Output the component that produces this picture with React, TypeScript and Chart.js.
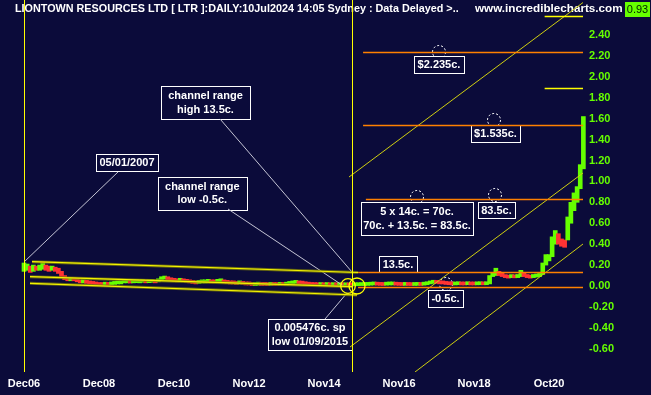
import React, { useEffect, useRef } from 'react';
import { Chart, registerables } from 'chart.js';

Chart.register(...registerables);

// ---------- text ----------
const TITLE = 'LIONTOWN RESOURCES LTD [ LTR ]:DAILY:10Jul2024 14:05 Sydney : Data Delayed >..';
const SITE = 'www.incrediblecharts.com';
const LAST_PRICE = '0.93';

// ---------- axes ----------
// x values are month indexes counted from Dec 2006
const xTickMonths = [0, 24, 48, 72, 96, 120, 144, 168];
const xTickLabels = ['Dec06', 'Dec08', 'Dec10', 'Nov12', 'Nov14', 'Nov16', 'Nov18', 'Oct20'];
const yTicks = [-0.6, -0.4, -0.2, 0, 0.2, 0.4, 0.6, 0.8, 1.0, 1.2, 1.4, 1.6, 1.8, 2.0, 2.2, 2.4];

// ---------- price ranges (one bar per month, Dec 2006 .. Oct 2021) ----------
const lows = [
  0.14, 0.15, 0.13, 0.14, 0.15, 0.15, 0.16, 0.15, 0.14, 0.15, 0.14, 0.12,
  0.09, 0.06, 0.05, 0.05, 0.05, 0.04, 0.03, 0.03, 0.025, 0.02, 0.015, 0.01,
  0.005, 0.005, 0.008, 0.006, 0.01, 0.015, 0.02, 0.02, 0.03, 0.03, 0.028, 0.03,
  0.032, 0.03, 0.035, 0.03, 0.032, 0.035, 0.03, 0.04, 0.06, 0.065, 0.06, 0.05,
  0.045, 0.04, 0.045, 0.04, 0.035, 0.03, 0.025, 0.02, 0.025, 0.03, 0.03, 0.035,
  0.03, 0.03, 0.035, 0.04, 0.03, 0.025, 0.02, 0.02, 0.015, 0.02, 0.015, 0.01,
  0.01, 0.005, 0.005, 0.008, 0.005, 0.006, 0.004, 0.006, 0.005, 0.004, 0.006, 0.005,
  0.008, 0.015, 0.02, 0.025, 0.02, 0.018, 0.012, 0.008, 0.005, 0.004, 0.003, 0.004,
  0.003, 0.004, 0.002, 0.003, 0.002, 0.003, 0.002, 0.002, 0.001, 0.0005, 0.002, 0.003,
  0.004, 0.005, 0.006, 0.008, 0.01, 0.008, 0.006, 0.005, 0.008, 0.01, 0.01, 0.008,
  0.006, 0.005, 0.006, 0.005, 0.004, 0.005, 0.006, 0.005, 0.008, 0.012, 0.02, 0.025,
  0.025, 0.02, 0.02, 0.015, 0.012, 0.01, 0.01, 0.012, 0.01, 0.01, 0.012, 0.01,
  0.01, 0.011, 0.012, 0.011, 0.012, 0.02, 0.09, 0.1, 0.1, 0.09, 0.08, 0.075,
  0.08, 0.078, 0.08, 0.09, 0.09, 0.08, 0.075, 0.08, 0.085, 0.09, 0.11, 0.2,
  0.24, 0.28, 0.4, 0.4, 0.38, 0.37, 0.44, 0.6, 0.72, 0.8, 0.93, 1.12,
];
const highs = [
  0.22, 0.21, 0.19, 0.2, 0.19, 0.2, 0.22, 0.2, 0.19, 0.19, 0.18, 0.17,
  0.14, 0.1, 0.08, 0.08, 0.07, 0.07, 0.05, 0.05, 0.045, 0.04, 0.035, 0.025,
  0.02, 0.018, 0.02, 0.018, 0.022, 0.03, 0.035, 0.04, 0.045, 0.05, 0.045, 0.05,
  0.048, 0.05, 0.05, 0.045, 0.05, 0.052, 0.048, 0.06, 0.085, 0.095, 0.085, 0.07,
  0.065, 0.06, 0.065, 0.06, 0.055, 0.05, 0.045, 0.04, 0.045, 0.05, 0.055, 0.06,
  0.055, 0.05, 0.06, 0.065, 0.05, 0.04, 0.04, 0.035, 0.035, 0.04, 0.03, 0.03,
  0.025, 0.02, 0.02, 0.022, 0.02, 0.018, 0.018, 0.02, 0.018, 0.016, 0.02, 0.018,
  0.022, 0.03, 0.04, 0.05, 0.045, 0.035, 0.028, 0.022, 0.016, 0.015, 0.014, 0.016,
  0.012, 0.013, 0.012, 0.012, 0.01, 0.011, 0.009, 0.01, 0.008, 0.007, 0.01, 0.012,
  0.014, 0.018, 0.02, 0.024, 0.03, 0.022, 0.02, 0.018, 0.024, 0.028, 0.03, 0.022,
  0.02, 0.018, 0.018, 0.016, 0.016, 0.017, 0.018, 0.016, 0.022, 0.03, 0.045, 0.055,
  0.05, 0.045, 0.04, 0.03, 0.025, 0.022, 0.022, 0.024, 0.022, 0.02, 0.022, 0.021,
  0.02, 0.022, 0.023, 0.022, 0.024, 0.1, 0.13, 0.17, 0.14, 0.13, 0.105, 0.1,
  0.105, 0.1, 0.11, 0.15, 0.13, 0.11, 0.1, 0.11, 0.115, 0.12, 0.22, 0.3,
  0.3, 0.47, 0.53, 0.5, 0.45, 0.44, 0.66, 0.8, 0.89, 0.95, 1.16, 1.62,
];

// ---------- drawn annotations (month index, price) ----------
const verticalMarkerMonths = [0, 104.96];
const channelLines = [
  [[2.56, 0.2323], [106.88, 0.1291]],
  [[1.92, 0.0889], [104.96, -0.0067]],
  [[1.92, 0.0258], [106.56, -0.086]],
];
const trendLines = [
  [[104, 1.042], [178.88, 2.71]],
  [[104.32, -0.5832], [178.88, 1.0803]],
  [[125.12, -0.8222], [178.88, 0.4015]],
];
const levelValues = [2.235, 1.535, 0.835, 0.135, -0.005];
const levelStartMonths = [108.5, 108.5, 109.4, 106.9, 106.9];
const levelEndMonth = 178.88;
const shortYellowLevels = [2.58, 1.89];
const shortYellowStart = 166.6;
const leaderLines = [
  [[30.08, 1.09], [0, 0.229]],
  [[62.72, 1.597], [104.96, 0.1338]],
  [[65.28, 0.736], [102.72, -0.0096]],
  [[96.32, -0.3155], [103.36, -0.0669]],
];
const lowCircleMonths = [103.68, 106.56];
const lowCircleRadii = [7.3, 8];
const dashedMarks = [
  [135.04, 0.019],
  [125.76, 0.851],
  [150.72, 0.87],
  [132.8, 2.237],
  [150.4, 1.587],
];
const boxTexts = [
  ['05/01/2007'],
  ['channel range', 'high 13.5c.'],
  ['channel range', 'low -0.5c.'],
  ['0.005476c. sp', 'low 01/09/2015'],
  ['13.5c.'],
  ['-0.5c.'],
  ['5 x 14c. = 70c.', '70c. + 13.5c. = 83.5c.'],
  ['83.5c.'],
  ['$2.235c.'],
  ['$1.535c.'],
];
const boxAnchors = [
  [32.96, 1.181],
  [58.08, 1.754],
  [57.06, 0.889],
  [91.52, -0.4637],
  [119.68, 0.2103],
  [134.88, -0.1195],
  [125.76, 0.6453],
  [151.2, 0.7266],
  [132.8, 2.1176],
  [150.88, 1.458],
];
const boxSizes = [
  [62, 17], [89, 33], [89, 33], [84, 31], [38, 16],
  [35, 17], [112, 33], [37, 16], [50, 17], [49, 17],
];

// ---------- style ----------
const BG = '#0b0b3a';
const GREEN = '#66ff00';
const RED = '#ff3333';
const LIME = '#66ff00';
const FONT = "'Liberation Sans', Arial, sans-serif";
const X_MIN = -7.68;
const X_MAX = 179.84;
const Y_MAX = 2.7342;
const Y_MIN = -0.8222;

const bgPlugin = {
  id: 'bgFill',
  beforeDraw(chart: any) {
    const ctx = chart.ctx;
    ctx.save();
    ctx.fillStyle = BG;
    ctx.fillRect(0, 0, chart.width, chart.height);
    ctx.restore();
  },
};

const annotationPlugin = {
  id: 'annots',
  beforeDatasetsDraw(chart: any) {
    const ctx = chart.ctx;
    const xs = chart.scales.x;
    const ys = chart.scales.y;
    const px = (m: number) => xs.getPixelForValue(m);
    const py = (v: number) => ys.getPixelForValue(v);
    ctx.save();
    // title bar
    ctx.textBaseline = 'middle';
    ctx.textAlign = 'left';
    ctx.fillStyle = '#ffffff';
    ctx.font = `bold 10.8px ${FONT}`;
    ctx.fillText(TITLE, 15, 9);
    ctx.font = `bold 11.7px ${FONT}`;
    ctx.fillText(SITE, 475, 9);
    ctx.fillStyle = LIME;
    ctx.fillRect(625, 2, 25, 15);
    ctx.fillStyle = '#002200';
    ctx.font = `11px ${FONT}`;
    ctx.textAlign = 'center';
    ctx.fillText(LAST_PRICE, 637.5, 10);

    // dashed marks
    ctx.strokeStyle = '#ffffff';
    ctx.lineWidth = 1;
    ctx.setLineDash([2, 2]);
    dashedMarks.forEach(([m, v]) => {
      ctx.beginPath();
      ctx.arc(px(m), py(v), 6.5, 0, Math.PI * 2);
      ctx.stroke();
    });
    ctx.setLineDash([]);

    // text boxes
    boxTexts.forEach((lines, i) => {
      const cx = px(boxAnchors[i][0]);
      const cy = py(boxAnchors[i][1]);
      const [w, h] = boxSizes[i];
      const left = Math.round(cx - w / 2) + 0.5;
      const top = Math.round(cy - h / 2) + 0.5;
      ctx.fillStyle = BG;
      ctx.fillRect(left, top, w, h);
      ctx.strokeStyle = '#ffffff';
      ctx.lineWidth = 1;
      ctx.strokeRect(left, top, w, h);
      ctx.fillStyle = '#ffffff';
      ctx.font = `bold 11px ${FONT}`;
      ctx.textAlign = 'center';
      ctx.textBaseline = 'middle';
      const gap = 13.5;
      lines.forEach((t, k) => {
        const off = (k - (lines.length - 1) / 2) * gap;
        ctx.fillText(t, cx, cy + off + 0.5);
      });
    });
    ctx.restore();
  },
  afterDatasetsDraw(chart: any) {
    const ctx = chart.ctx;
    const xs = chart.scales.x;
    const ys = chart.scales.y;
    const area = chart.chartArea;
    const px = (m: number) => xs.getPixelForValue(m);
    const py = (v: number) => ys.getPixelForValue(v);
    ctx.save();
    ctx.beginPath();
    ctx.rect(area.left, area.top, area.right - area.left, area.bottom - area.top);
    ctx.clip();

    const seg = (a: number[], b: number[]) => {
      ctx.beginPath();
      ctx.moveTo(px(a[0]), py(a[1]));
      ctx.lineTo(px(b[0]), py(b[1]));
      ctx.stroke();
    };

    // leader lines
    ctx.strokeStyle = '#c4c4d4';
    ctx.lineWidth = 1;
    leaderLines.forEach(([a, b]) => seg(a, b));

    // diagonal trend lines
    ctx.strokeStyle = '#cfcf10';
    ctx.lineWidth = 1;
    trendLines.forEach(([a, b]) => seg(a, b));

    // channel lines
    channelLines.forEach(([a, b]) => {
      ctx.strokeStyle = 'rgba(120,120,10,0.8)';
      ctx.lineWidth = 3;
      seg(a, b);
      ctx.strokeStyle = '#f4f400';
      ctx.lineWidth = 1.2;
      seg(a, b);
    });

    // orange price levels
    ctx.strokeStyle = '#ff8000';
    ctx.lineWidth = 1.5;
    levelValues.forEach((v, i) => {
      const y = Math.round(py(v)) + 0.5;
      ctx.beginPath();
      ctx.moveTo(px(levelStartMonths[i]), y);
      ctx.lineTo(px(levelEndMonth), y);
      ctx.stroke();
    });

    // short yellow levels
    ctx.strokeStyle = '#ffff00';
    ctx.lineWidth = 1.5;
    shortYellowLevels.forEach((v) => {
      const y = Math.round(py(v)) + 0.5;
      ctx.beginPath();
      ctx.moveTo(px(shortYellowStart), y);
      ctx.lineTo(px(levelEndMonth), y);
      ctx.stroke();
    });

    // vertical markers
    ctx.strokeStyle = '#ffff00';
    ctx.lineWidth = 1;
    verticalMarkerMonths.forEach((m) => {
      const x = Math.round(px(m)) + 0.5;
      ctx.beginPath();
      ctx.moveTo(x, area.top);
      ctx.lineTo(x, area.bottom);
      ctx.stroke();
    });

    // low circles
    ctx.strokeStyle = '#ffff00';
    ctx.lineWidth = 1.3;
    lowCircleMonths.forEach((m, i) => {
      ctx.beginPath();
      ctx.arc(px(m), py(0), lowCircleRadii[i], 0, Math.PI * 2);
      ctx.stroke();
    });
    ctx.restore();
  },
};

export default function App() {
  const ref = useRef<HTMLCanvasElement>(null);
  useEffect(() => {
    document.body.style.margin = '0';
    document.body.style.background = BG;
    const canvas = ref.current;
    if (!canvas) return;
    const points = lows.map((lo, i) => ({ x: i, y: [lo, highs[i]] }));
    const colors = lows.map((lo, i) => {
      const mid = (lo + highs[i]) / 2;
      const prev = i > 0 ? (lows[i - 1] + highs[i - 1]) / 2 : mid;
      return mid >= prev ? GREEN : RED;
    });
    const chart = new Chart(canvas, {
      type: 'bar',
      data: {
        datasets: [
          {
            data: points as any,
            backgroundColor: colors,
            borderWidth: 0,
            barThickness: 4,
            minBarLength: 3,
          } as any,
        ],
      },
      options: {
        animation: false,
        responsive: false,
        maintainAspectRatio: false,
        layout: { padding: 0 },
        plugins: {
          legend: { display: false },
          tooltip: { enabled: false },
          title: { display: false },
        },
        scales: {
          x: {
            type: 'linear',
            min: X_MIN,
            max: X_MAX,
            offset: false,
            grid: { display: false, drawTicks: false },
            border: { display: false },
            afterBuildTicks: (s: any) => {
              s.ticks = xTickMonths.map((v) => ({ value: v }));
            },
            afterFit: (s: any) => {
              s.height = 23;
              s.paddingLeft = 0;
              s.paddingRight = 0;
              s.paddingTop = 0;
              s.paddingBottom = 0;
            },
            ticks: {
              color: '#ffffff',
              font: { family: FONT, size: 11, weight: 'bold' },
              padding: 5,
              maxRotation: 0,
              autoSkip: false,
              callback: (v: any) => {
                const k = xTickMonths.indexOf(Number(v));
                return k >= 0 ? xTickLabels[k] : '';
              },
            },
          },
          y: {
            type: 'linear',
            position: 'right',
            min: Y_MIN,
            max: Y_MAX,
            grid: { display: false, drawTicks: false },
            border: { display: false },
            afterBuildTicks: (s: any) => {
              s.ticks = yTicks.map((v) => ({ value: v }));
            },
            afterFit: (s: any) => {
              s.width = 65;
              s.paddingTop = 0;
              s.paddingBottom = 0;
              s.paddingLeft = 0;
              s.paddingRight = 0;
            },
            ticks: {
              color: LIME,
              font: { family: FONT, size: 11, weight: 'bold' },
              padding: 3,
              autoSkip: false,
              callback: (v: any) => Number(v).toFixed(2),
            },
          },
        } as any,
      },
      plugins: [bgPlugin, annotationPlugin],
    });
    return () => chart.destroy();
  }, []);
  return (
    <div style={{ width: 651, height: 395, background: BG }}>
      <canvas ref={ref} width={651} height={395} style={{ display: 'block' }} />
    </div>
  );
}
